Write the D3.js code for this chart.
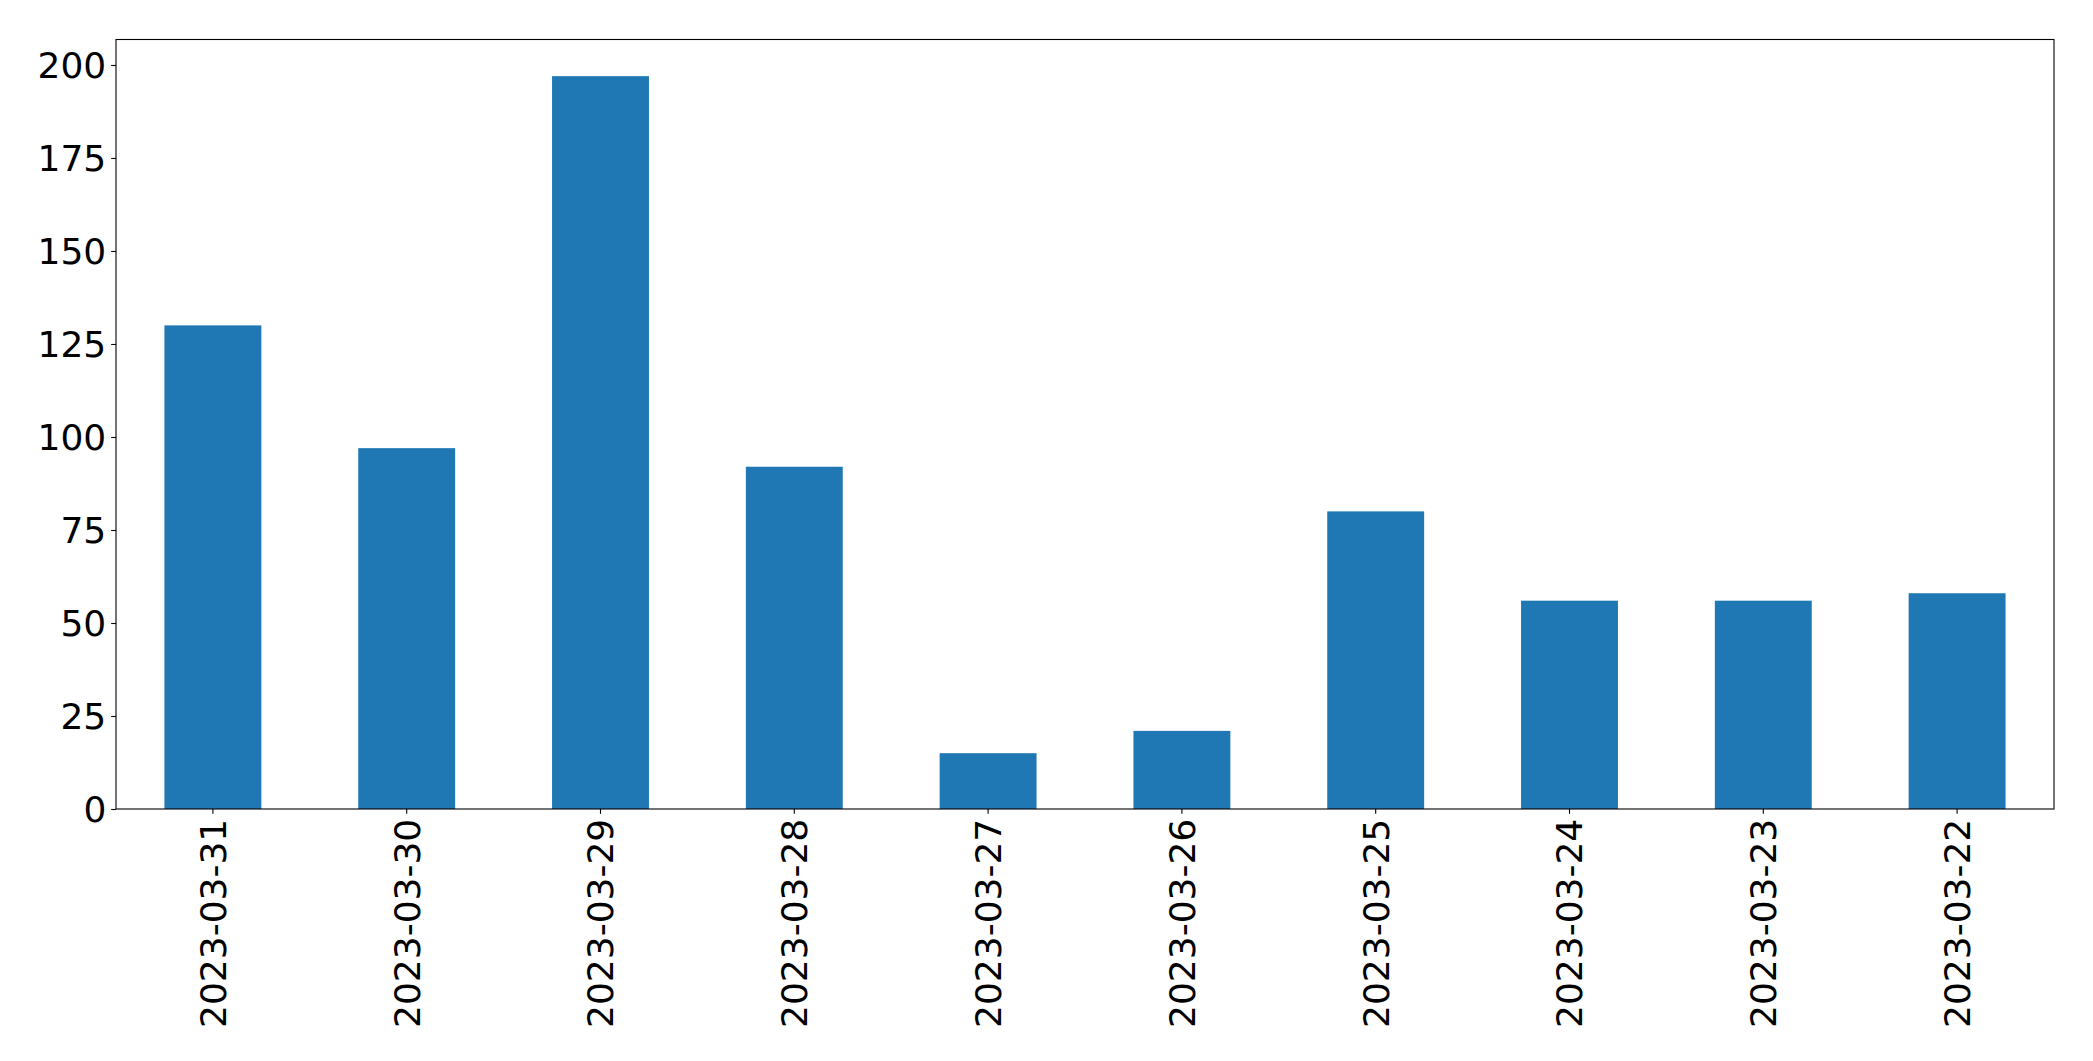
<!DOCTYPE html>
<html>
<head>
<meta charset="utf-8">
<script src="https://cdn.jsdelivr.net/npm/d3@7"></script>
<style>
  body { margin: 0; background: #fff; }
  svg { display: block; }
  .axis text { font-family: "DejaVu Sans", sans-serif; font-size: 36px; fill: #000; }
  .axis path, .axis line { stroke: #000; stroke-width: 1.1px; }
</style>
</head>
<body>
<div id="chart"></div>
<script>
// dates, newest first (as in the source)
var dates = ["2023-03-31", "2023-03-30", "2023-03-29", "2023-03-28", "2023-03-27",
             "2023-03-26", "2023-03-25", "2023-03-24", "2023-03-23", "2023-03-22"];
var counts = [130, 97, 197, 92, 15, 21, 80, 56, 56, 58];
var yTicks = [0, 25, 50, 75, 100, 125, 150, 175, 200];

var width = 2093, height = 1061;
var margin = {top: 39.5, right: 39, bottom: 252, left: 116};
var innerW = width - margin.left - margin.right;
var innerH = height - margin.top - margin.bottom;

var svg = d3.select("#chart").append("svg")
    .attr("width", width)
    .attr("height", height);

var g = svg.append("g")
    .attr("transform", "translate(" + margin.left + "," + margin.top + ")");

var x = d3.scaleBand()
    .domain(dates)
    .range([0, innerW])
    .paddingInner(0.5)
    .paddingOuter(0.25);

var y = d3.scaleLinear()
    .domain([0, d3.max(counts) * 1.05])
    .range([innerH, 0]);

g.selectAll("rect.bar")
    .data(counts)
    .enter()
    .append("rect")
    .attr("class", "bar")
    .attr("x", function(d, i) { return x(dates[i]); })
    .attr("y", function(d) { return y(d); })
    .attr("width", x.bandwidth())
    .attr("height", function(d) { return innerH - y(d); })
    .style("fill", "#1f77b4");

// frame
g.append("rect")
    .attr("width", innerW)
    .attr("height", innerH)
    .style("fill", "none")
    .style("stroke", "#000")
    .style("stroke-width", 1.1);

var tick = 4.86;

g.append("g")
    .attr("class", "axis")
    .call(d3.axisLeft(y).tickValues(yTicks).tickSize(tick).tickPadding(tick).tickSizeOuter(0))
    .call(function(a) { a.select(".domain").remove(); })
    .selectAll("text")
    .attr("dy", "0.36em");

var xa = g.append("g")
    .attr("class", "axis")
    .attr("transform", "translate(0," + innerH + ")")
    .call(d3.axisBottom(x).tickSize(tick).tickPadding(tick).tickSizeOuter(0));
xa.select(".domain").remove();
xa.selectAll("text")
    .attr("text-anchor", "end")
    .attr("transform", "rotate(-90)")
    .attr("x", -(tick * 2))
    .attr("y", 0)
    .attr("dy", "0.36em");
</script>
</body>
</html>
